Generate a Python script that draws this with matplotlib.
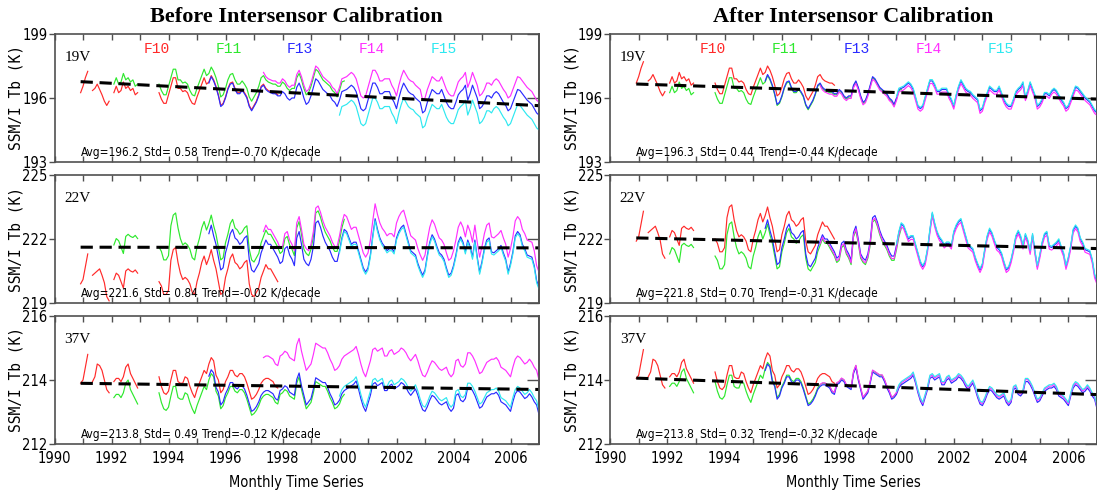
import numpy as np
import matplotlib
matplotlib.use("Agg")
import matplotlib.pyplot as plt

nan = float("nan")

# monthly series, first value is Dec 1990, last is Jan 2007
start_year = 1990 + 11 / 12

sensors = ["F10", "F11", "F13", "F14", "F15"]
sensor_colors = ["#ff2a2a", "#2ee82e", "#2b2bff", "#ff30ff", "#2ee8f0"]
# first / last year of each satellite record
sensor_spans = [(1990.9, 1997.85), (1992.05, 2000.2), (1995.4, 2007.1),
                (1997.3, 2007.1), (1999.95, 2007.1)]

channels = ["19V", "22V", "37V"]

# common monthly Tb (K) of each channel, F13 level after calibration
tb19v = [196.3,
         196.6, 197.0, 197.3, nan, 196.4, 196.5, 196.7, 196.45, 196.2, 195.9, 195.7, 195.9,
         nan, 196.3, 196.6, 196.3, 196.4, 196.8, 196.5, 196.6, 196.4, 196.5, 196.2, 196.3,
         nan, nan, nan, nan, nan, nan, nan, nan, 196.3, 196.0, 195.8, 195.8,
         196.2, 196.6, 197.0, 197.0, 196.5, 196.5, 196.35, 196.4, 196.3, 196.0, 195.8, 195.75,
         196.1, 196.4, 196.7, 197.0, 196.7, 196.8, 197.1, 196.9, 196.6, 196.2, 195.7, 195.8,
         196.1, 196.5, 196.75, 196.8, 196.5, 196.3, 196.3, 196.45, 196.3, 196.1, 195.7, 195.5,
         195.7, 195.9, 196.2, 196.6, 196.7, 196.5, 196.4, 196.35, 196.3, 196.3, 196.2, 196.2,
         196.4, 196.3, 196.1, 196.0, 196.1, 196.1, 196.6, 196.8, 196.5, 196.1, 195.8, 195.9,
         196.2, 196.6, 197.0, 196.9, 196.7, 196.5, 196.4, 196.3, 196.2, 196.0, 195.9, 195.7,
         196.0, 196.4, 196.45, 196.5, 196.6, 196.7, 196.6, 196.4, 196.0, 195.6, 195.5, 195.6,
         196.0, 196.4, 196.8, 196.8, 196.6, 196.3, 196.3, 196.4, 196.4, 196.4, 196.1, 195.9,
         195.6, 196.1, 196.5, 196.8, 196.6, 196.4, 196.3, 196.25, 196.1, 196.0, 195.9, 195.4,
         195.5, 195.9, 196.2, 196.5, 196.4, 196.3, 196.3, 196.5, 196.2, 195.9, 195.7, 195.6,
         195.6, 195.9, 196.25, 196.4, 196.5, 196.7, 196.0, 196.3, 196.7, 196.4, 196.1, 195.6,
         195.7, 195.9, 196.2, 196.2, 196.1, 196.3, 196.4, 196.3, 196.1, 195.9, 195.75, 195.5,
         195.6, 195.9, 196.2, 196.5, 196.45, 196.3, 196.15, 196.0, 195.9, 195.8, 195.6, 195.4,
         195.3]

tb22v = [221.3,
         221.5, 222.1, 222.7, nan, 221.7, 221.8, 221.9, 222.0, 221.7, 221.35, 220.7, 220.5,
         nan, 221.5, 221.8, 221.7, 221.4, 221.1, 221.9, 222.0, 221.9, 221.85, 221.95, 221.8,
         nan, nan, nan, nan, nan, nan, nan, nan, 221.4, 221.2, 220.8, 220.8,
         221.0, 222.4, 222.9, 223.0, 222.3, 221.8, 221.5, 221.6, 221.5, 221.3, 220.9, 220.8,
         221.4, 221.8, 222.3, 222.6, 222.2, 222.5, 222.9, 222.4, 222.0, 221.4, 220.8, 220.9,
         221.6, 222.0, 222.5, 222.7, 222.3, 222.2, 222.0, 222.1, 222.3, 222.4, 221.3, 220.8,
         220.7, 220.9, 221.1, 221.6, 221.9, 222.2, 222.0, 222.0, 221.8, 221.6, 221.4, 221.1,
         221.2, 221.8, 221.9, 221.5, 221.3, 221.0, 222.3, 222.6, 222.0, 221.3, 221.1, 221.0,
         221.3, 221.9, 223.0, 223.1, 222.8, 222.4, 222.1, 221.9, 221.7, 221.4, 221.2, 221.2,
         221.7, 222.3, 222.7, 222.6, 222.3, 222.0, 222.1, 222.1, 221.7, 221.3, 220.9, 220.7,
         220.9, 221.5, 222.4, 223.2, 222.7, 222.3, 222.05, 221.9, 221.7, 221.8, 221.8, 221.65,
         222.3, 222.6, 222.8, 222.9, 222.5, 222.1, 221.7, 221.6, 221.5, 221.1, 220.8, 220.55,
         220.8, 221.5, 222.1, 222.45, 222.25, 221.9, 221.6, 221.5, 221.3, 220.9, 220.55, 220.65,
         221.0, 221.5, 222.1, 222.35, 222.1, 221.65, 222.2, 221.9, 221.4, 222.2, 221.4, 220.7,
         221.2, 221.8, 222.2, 222.3, 221.65, 221.6, 221.7, 221.8, 221.95, 221.6, 221.3, 220.7,
         221.1, 221.65, 222.4, 222.6, 222.45, 222.0, 221.8, 221.5, 221.45, 221.4, 221.0, 220.3,
         220.0]

tb37v = [213.7,
         213.8, 214.2, 214.6, nan, 213.75, 213.9, 214.3, 214.25, 214.1, 213.8, 213.5, 213.4,
         nan, 213.75, 213.85, 213.85, 213.75, 213.9, 214.2, 214.3, 214.0, 213.85, 213.7, 213.55,
         nan, nan, nan, nan, nan, nan, nan, nan, 213.9, 213.6, 213.4, 213.35,
         213.45, 213.8, 214.1, 214.1, 213.75, 213.7, 213.7, 213.9, 213.85, 213.6, 213.4, 213.25,
         213.5, 213.7, 213.9, 214.1, 214.0, 214.3, 214.5, 214.4, 213.95, 213.8, 213.4, 213.5,
         213.75, 213.9, 214.1, 214.1, 213.95, 213.9, 214.0, 214.0, 213.9, 213.7, 213.45, 213.2,
         213.25, 213.35, 213.5, 213.7, 213.8, 213.85, 213.85, 213.8, 213.75, 213.6, 213.55, 213.85,
         213.9, 214.0, 213.95, 213.8, 213.75, 213.7, 214.2, 214.4, 214.0, 213.7, 213.4, 213.5,
         213.6, 213.9, 214.25, 214.2, 214.15, 214.1, 214.1, 213.95, 213.75, 213.6, 213.4, 213.45,
         213.55, 213.75, 213.85, 213.9, 213.95, 214.0, 214.05, 214.15, 213.9, 213.6, 213.35, 213.2,
         213.45, 213.7, 214.05, 214.1, 214.0, 214.05, 214.1, 213.85, 213.85, 214.0, 214.05, 213.9,
         213.95, 214.0, 214.1, 214.05, 213.95, 213.8, 213.7, 213.8, 213.9, 213.7, 213.45, 213.25,
         213.2, 213.35, 213.55, 213.7, 213.65, 213.55, 213.45, 213.4, 213.45, 213.5, 213.3, 213.2,
         213.3, 213.7, 213.75, 213.55, 213.5, 213.6, 213.95, 213.95, 213.85, 213.7, 213.5, 213.3,
         213.35, 213.5, 213.65, 213.7, 213.75, 213.75, 213.8, 213.7, 213.5, 213.45, 213.4, 213.3,
         213.2, 213.5, 213.75, 213.85, 213.8, 213.7, 213.6, 213.65, 213.75, 213.65, 213.5, 213.4,
         213.1]

# sensor bias (K) against the common series, order F10 F11 F13 F14 F15
bias_before = [[-0.05, 0.35, -0.1, 0.5, -0.8],
               [-1.4, 0.22, -0.25, 0.45, -0.35],
               [0.2, -0.3, -0.18, 0.9, -0.05]]
bias_after = [[0.4, -0.05, 0.0, -0.12, 0.06],
              [0.6, -0.2, 0.0, -0.12, 0.06],
              [0.35, 0.05, 0.0, 0.06, 0.1]]

avg_before = [196.2, 221.6, 213.8]
std_before = [0.58, 0.84, 0.49]
trend_before = [-0.70, -0.02, -0.12]
avg_after = [196.3, 221.8, 213.8]
std_after = [0.44, 0.70, 0.32]
trend_after = [-0.44, -0.31, -0.32]

ylims = [(193, 199), (219, 225), (212, 216)]
yticks = [[193, 196, 199], [219, 222, 225], [212, 214, 216]]

SANS = "DejaVu Sans"
MONO = "DejaVu Sans Mono"
SPINE = "#505050"

fig = plt.figure(figsize=(10.97, 4.95), dpi=100)
W, H = 1097.0, 495.0

col_left = [54.5, 610.0]
col_width = [484.5, 487.0]
row_top = [34.0, 175.0, 316.0]
row_h = 128.0

panels = [
    ("Before Intersensor Calibration", bias_before, avg_before, std_before, trend_before),
    ("After Intersensor Calibration", bias_after, avg_after, std_after, trend_after),
]

for col, (title, biases, avgs, stds, trends) in enumerate(panels):
    for row in range(3):
        ax = fig.add_axes([col_left[col] / W, 1 - (row_top[row] + row_h) / H,
                           col_width[col] / W, row_h / H])
        values = np.array(tb19v if row == 0 else tb22v if row == 1 else tb37v)
        t = start_year + np.arange(len(values)) / 12.0
        for k in range(len(sensors)):
            lo, hi = sensor_spans[k]
            on = (t >= lo) & (t <= hi)
            ax.plot(t[on], values[on] + biases[row][k], color=sensor_colors[k], lw=0.85)

        # linear trend through the record
        tt = np.array([t[0], 2007.0])
        ax.plot(tt, avgs[row] + trends[row] / 10.0 * (tt - 1999.0),
                color="black", lw=2.2, dashes=(4, 2.2))

        ax.set_xlim(1990, 2007)
        ax.set_ylim(*ylims[row])
        ax.set_xticks(range(1990, 2007, 2))
        ax.set_xticks(range(1991, 2007, 2), minor=True)
        ax.set_yticks(yticks[row])
        ax.tick_params(axis="x", which="both", direction="in", length=4, width=1,
                       top=True, bottom=True, color=SPINE, labelbottom=(row == 2),
                       labelsize=10.5, pad=5)
        ax.tick_params(axis="y", direction="out", length=4, width=1, color=SPINE,
                       labelsize=10.5, pad=1)
        for lab in ax.get_xticklabels() + ax.get_yticklabels():
            lab.set_fontfamily(SANS)
            lab.set_fontstretch("condensed")
        for sp in ax.spines.values():
            sp.set_color(SPINE)
            sp.set_linewidth(1.2)

        right = ax.secondary_yaxis("right")
        right.set_yticks(yticks[row])
        right.tick_params(direction="in", length=9, width=1, color=SPINE, labelright=False)
        right.spines["right"].set_color(SPINE)
        right.spines["right"].set_linewidth(1.2)

        ax.text(0.02, 0.82, channels[row], transform=ax.transAxes, va="center",
                fontfamily="Liberation Serif", fontsize=11)
        stats = [(0.054, f"Avg={avgs[row]:.1f}"), (0.184, f"Std= {stds[row]:.2f}"),
                 (0.305, f"Trend={trends[row]:.2f} K/decade")]
        for x, s in stats:
            ax.text(x, 0.075, s, transform=ax.transAxes, va="center",
                    fontfamily=SANS, fontstretch="condensed", fontsize=8.5)

        if row == 0:
            for k, name in enumerate(sensors):
                ax.text(0.211 + 0.148 * k, 0.883, name, transform=ax.transAxes,
                        ha="center", va="center", color=sensor_colors[k],
                        fontfamily="Liberation Mono", fontsize=10.5)

        fig.text((col_left[col] - 38) / W, 1 - (row_top[row] + row_h / 2) / H,
                 "SSM/I Tb (K)", rotation=90, ha="center", va="center",
                 fontfamily=MONO, fontsize=10.5)

    cx = (col_left[col] + col_width[col] / 2) / W
    fig.text(cx, 1 - 17 / H, title, ha="center", va="center",
             fontfamily="Liberation Serif", fontweight="bold", fontsize=16)
    fig.text(cx, 1 - 482 / H, "Monthly Time Series", ha="center", va="center",
             fontfamily=SANS, fontstretch="condensed", fontsize=10.5)

fig.savefig("out.png", dpi=100)
